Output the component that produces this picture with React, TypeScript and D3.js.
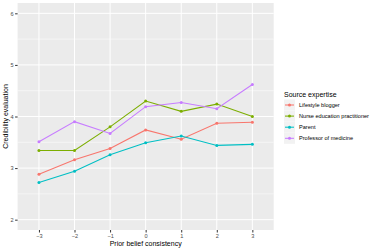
import React, { useRef, useEffect } from 'react';
import * as d3 from 'd3';

const consistency = ['-3', '-2', '-1', '0', '1', '2', '3'];
const expertise = ['Lifestyle blogger', 'Nurse education practitioner', 'Parent', 'Professor of medicine'];
const colors = ['#F8766D', '#7CAE00', '#00BFC4', '#C77CFF'];
const lifestyle = [2.88, 3.16, 3.38, 3.74, 3.56, 3.87, 3.89];
const nurse = [3.34, 3.34, 3.80, 4.30, 4.10, 4.24, 4.00];
const parent = [2.72, 2.94, 3.26, 3.49, 3.62, 3.44, 3.46];
const professor = [3.51, 3.90, 3.67, 4.19, 4.27, 4.15, 4.62];
const yTicks = [2, 3, 4, 5, 6];

const App = () => {
  const svgRef = useRef<SVGSVGElement>(null);

  useEffect(() => {
    const svg = d3.select(svgRef.current);
    svg.selectAll('*').remove();
    const font = '"Liberation Sans", Arial, sans-serif';
    const panel = { left: 17.6, right: 273.7, top: 3, bottom: 230 };

    const x = d3.scalePoint<string>()
      .domain(consistency)
      .range([panel.left, panel.right])
      .padding(0.6);
    const y = d3.scaleLinear().domain([1.8, 6.2]).range([panel.bottom, panel.top]);

    svg.append('rect')
      .attr('x', panel.left).attr('y', panel.top)
      .attr('width', panel.right - panel.left).attr('height', panel.bottom - panel.top)
      .attr('fill', '#EBEBEB');

    // minor grid
    svg.append('g').selectAll('line')
      .data([2.5, 3.5, 4.5, 5.5])
      .join('line')
      .attr('x1', panel.left).attr('x2', panel.right)
      .attr('y1', d => y(d)).attr('y2', d => y(d))
      .attr('stroke', '#fff').attr('stroke-width', 0.5);

    // major grid
    svg.append('g').selectAll('line')
      .data(yTicks)
      .join('line')
      .attr('x1', panel.left).attr('x2', panel.right)
      .attr('y1', d => y(d)).attr('y2', d => y(d))
      .attr('stroke', '#fff').attr('stroke-width', 1);
    svg.append('g').selectAll('line')
      .data(consistency)
      .join('line')
      .attr('x1', d => x(d)!).attr('x2', d => x(d)!)
      .attr('y1', panel.top).attr('y2', panel.bottom)
      .attr('stroke', '#fff').attr('stroke-width', 1);

    // axes
    const yAxis = svg.append('g')
      .attr('transform', `translate(${panel.left},0)`)
      .call(d3.axisLeft(y).tickValues(yTicks).tickFormat(d3.format('d')).tickSize(2.5).tickPadding(1.5));
    const xAxis = svg.append('g')
      .attr('transform', `translate(0,${panel.bottom})`)
      .call(d3.axisBottom(x).tickSize(2.5).tickPadding(1.5).tickFormat(d => d.replace('-', '\u2212')));
    [yAxis, xAxis].forEach(a => {
      a.select('.domain').remove();
      a.selectAll('line').attr('stroke', '#333');
      a.selectAll('text').attr('fill', '#4D4D4D').style('font-size', '5.6px').style('font-family', font);
    });

    const series = [lifestyle, nurse, parent, professor];
    const line = d3.line<number>()
      .x((_, i) => x(consistency[i])!)
      .y(d => y(d));

    series.forEach((s, k) => {
      svg.append('path')
        .datum(s)
        .attr('d', line)
        .attr('fill', 'none')
        .attr('stroke', colors[k])
        .attr('stroke-width', 1.05);
      svg.append('g').selectAll('circle')
        .data(s)
        .join('circle')
        .attr('cx', (_, i) => x(consistency[i])!)
        .attr('cy', d => y(d))
        .attr('r', 1.5)
        .attr('fill', colors[k]);
    });

    // axis titles
    svg.append('text')
      .attr('x', (panel.left + panel.right) / 2)
      .attr('y', 245.5)
      .attr('text-anchor', 'middle')
      .style('font-size', '7px').style('font-family', font)
      .text('Prior belief consistency');
    svg.append('text')
      .attr('transform', `translate(8,${(panel.top + panel.bottom) / 2}) rotate(-90)`)
      .attr('text-anchor', 'middle')
      .style('font-size', '7px').style('font-family', font)
      .text('Credibility evaluation');

    // legend
    const legend = svg.append('g').attr('transform', 'translate(284,0)');
    legend.append('text')
      .attr('x', 0).attr('y', 96.5)
      .style('font-size', '7px').style('font-family', font)
      .text('Source expertise');
    const keys = legend.selectAll('g.key')
      .data(expertise)
      .join('g')
      .attr('class', 'key')
      .attr('transform', (_, i) => `translate(0,${99.5 + i * 11.1})`);
    keys.append('rect')
      .attr('x', 0).attr('y', 0).attr('width', 11).attr('height', 11)
      .attr('fill', '#F2F2F2');
    keys.append('line')
      .attr('x1', 1).attr('x2', 10).attr('y1', 5.5).attr('y2', 5.5)
      .attr('stroke', (_, i) => colors[i]).attr('stroke-width', 1.05);
    keys.append('circle')
      .attr('cx', 5.5).attr('cy', 5.5).attr('r', 1.5)
      .attr('fill', (_, i) => colors[i]);
    keys.append('text')
      .attr('x', 15).attr('y', 7.5)
      .style('font-size', '5.6px').style('font-family', font)
      .text(d => d);
  }, []);

  return (
    <svg
      ref={svgRef}
      width={374}
      height={250}
      style={{ position: 'absolute', left: 0, top: 0, background: '#fff' }}
    />
  );
};

export default App;
